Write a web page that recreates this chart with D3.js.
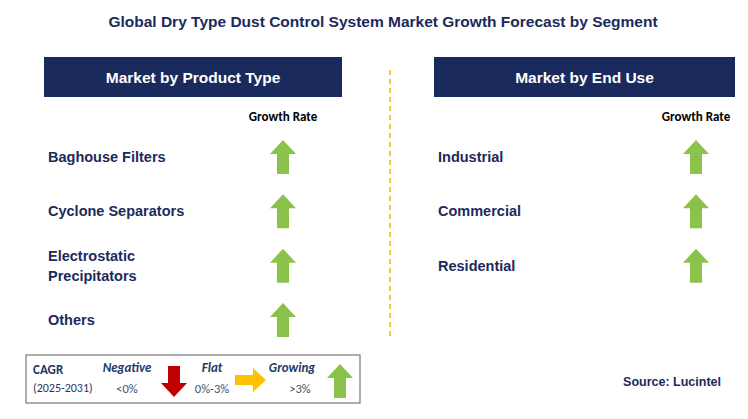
<!DOCTYPE html>
<html><head><meta charset="utf-8">
<script src="https://cdn.jsdelivr.net/npm/d3@7"></script>
<style>body{margin:0;background:#fff}svg{font-family:Calibri,Carlito,"Open Sans",Arial,sans-serif}</style>
</head><body><div id="chart"></div>
<script>
const title = "Global Dry Type Dust Control System Market Growth Forecast by Segment";
const productTypes = [["Baghouse Filters"], ["Cyclone Separators"], ["Electrostatic", "Precipitators"], ["Others"]];
const productTrend = ["up", "up", "up", "up"];
const endUses = [["Industrial"], ["Commercial"], ["Residential"]];
const endUseTrend = ["up", "up", "up"];
const panelTitles = ["Market by Product Type", "Market by End Use"];

const W = 748, H = 419;
const svg = d3.select("#chart").append("svg").attr("width", W).attr("height", H);
const navy = "#1b2a5c", green = "#8bc34a";

svg.append("text").attr("x", 383).attr("y", 27).attr("text-anchor", "middle")
  .attr("font-family", "Arial, Liberation Sans").attr("font-weight", "bold").attr("font-size", 15.5)
  .attr("fill", navy).text(title);

const y = d3.scaleLinear().domain([0, 3]).range([157, 320]);

function upArrow(g, cx, cy) {
  g.append("path").attr("fill", green)
    .attr("d", `M${cx},${cy-17} L${cx+13},${cy-3} L${cx+6},${cy-3} L${cx+6},${cy+17} L${cx-6},${cy+17} L${cx-6},${cy-3} L${cx-13},${cy-3} Z`);
}

const panels = [
  {x: 44, w: 298, labels: productTypes, trend: productTrend, ax: 283, lx: 48},
  {x: 434, w: 301, labels: endUses, trend: endUseTrend, ax: 696, lx: 438}
];
panels.forEach((p, i) => {
  const g = svg.append("g");
  g.append("rect").attr("x", p.x).attr("y", 57).attr("width", p.w).attr("height", 40).attr("fill", navy);
  g.append("text").attr("x", p.x + p.w / 2).attr("y", 83).attr("text-anchor", "middle")
    .attr("font-family", "Arial, Liberation Sans").attr("font-weight", "bold").attr("font-size", 15.5)
    .attr("fill", "#fff").text(panelTitles[i]);
  g.append("text").attr("x", p.ax).attr("y", 121).attr("text-anchor", "middle")
    .attr("font-weight", "bold").attr("font-size", 13).attr("fill", "#000").text("Growth Rate");
  p.labels.forEach((lines, k) => {
    const t = g.append("text").attr("font-family", "Arial, Liberation Sans").attr("font-weight", "bold")
      .attr("font-size", 14.5).attr("fill", navy);
    lines.forEach((s, j) => t.append("tspan").attr("x", p.lx)
      .attr("y", y(k) + 5 + (j - (lines.length - 1) / 2) * 20).text(s));
    if (p.trend[k] === "up") upArrow(g, p.ax, y(k));
  });
});

svg.append("line").attr("x1", 390).attr("x2", 390).attr("y1", 70).attr("y2", 340)
  .attr("stroke", "#f5b800").attr("stroke-width", 1.5).attr("stroke-dasharray", "5,4");

// legend
const lg = svg.append("g");
lg.append("rect").attr("x", 26).attr("y", 355).attr("width", 334).attr("height", 48)
  .attr("fill", "#fff").attr("stroke", "#777").attr("stroke-width", 1.2);
const lt = (x, yy, s, o) => lg.append("text").attr("x", x).attr("y", yy).attr("font-size", o.size || 12.5)
  .attr("font-weight", o.bold ? "bold" : null).attr("font-style", o.italic ? "italic" : null)
  .attr("text-anchor", o.anchor || "start").attr("fill", o.fill || "#1f3864").text(s);
lt(33, 374, "CAGR", {bold: true, size: 13});
lt(33, 392, "(2025-2031)", {size: 12});
lt(127, 372, "Negative", {bold: true, italic: true, anchor: "middle", size: 13});
lt(127, 393, "<0%", {anchor: "middle", size: 12.5, fill: "#44546a"});
lg.append("path").attr("fill", "#c00000").attr("d", "M168,366 L180,366 L180,383 L187,383 L174,397 L161,383 L168,383 Z");
lt(212, 372, "Flat", {bold: true, italic: true, anchor: "middle", size: 13});
lt(212, 393, "0%-3%", {anchor: "middle", size: 12.5, fill: "#44546a"});
lg.append("path").attr("fill", "#ffc000").attr("d", "M235,375 L253,375 L253,368 L266,380 L253,392 L253,385 L235,385 Z");
lt(292, 372, "Growing", {bold: true, italic: true, anchor: "middle", size: 13});
lt(300, 393, ">3%", {anchor: "middle", size: 12.5, fill: "#44546a"});
upArrow(lg, 340, 381);

svg.append("text").attr("x", 721).attr("y", 386).attr("text-anchor", "end").attr("font-family", "Arial, Liberation Sans")
  .attr("font-weight", "bold").attr("font-size", 12.5).attr("fill", navy).text("Source: Lucintel");
</script></body></html>
